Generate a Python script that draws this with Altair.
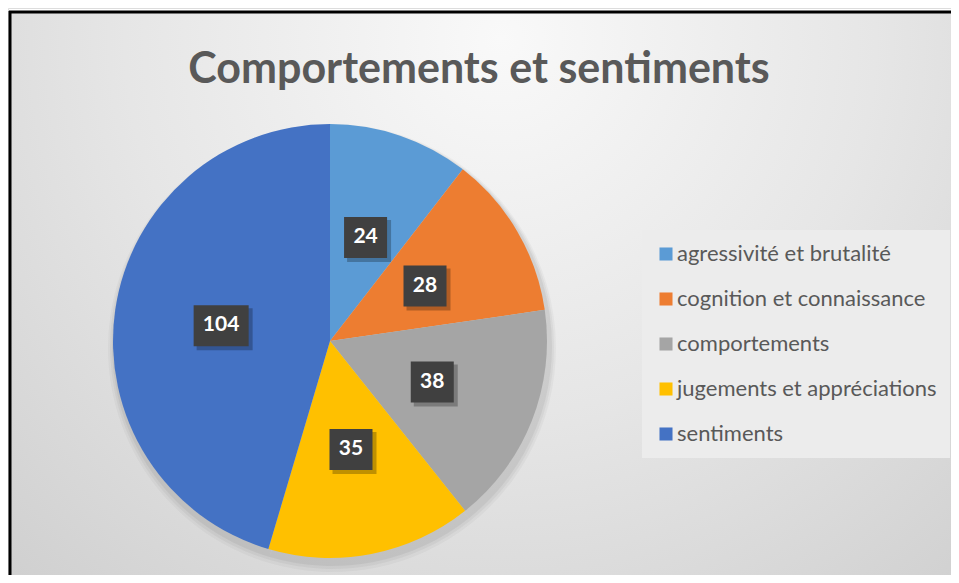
import altair as alt
import pandas as pd

categories = ["agressivité et brutalité", "cognition et connaissance", "comportements",
              "jugements et appréciations", "sentiments"]
values = [24, 28, 38, 35, 104]
colors = ["#5B9BD5", "#ED7D31", "#A5A5A5", "#FFC000", "#4472C4"]
title_text = "Comportements et sentiments"

W, H = 943, 567
CX, CY, R, RL = 322, 333, 217, 110

df = pd.DataFrame({"category": categories, "value": values, "order": list(range(len(values)))})

xs = alt.Scale(domain=[0, W], nice=False, zero=False)
ys = alt.Scale(domain=[0, H], reverse=True, nice=False, zero=False)

grad = {
    "gradient": "radial",
    "stops": [{"offset": 0, "color": "#f9f9f9"}, {"offset": 0.45, "color": "#e6e6e6"},
              {"offset": 1, "color": "#c9c9c9"}],
    "x1": 0.5, "y1": 0.22, "r1": 0, "x2": 0.5, "y2": 0.22, "r2": 0.85,
}

base = alt.Chart(df)

frame_bg = base.transform_filter("datum.order == 0").mark_rect(fill=grad).encode(
    x=alt.value(2), x2=alt.value(W + 40), y=alt.value(4), y2=alt.value(H + 40))
frame_top = base.transform_filter("datum.order == 0").mark_rule(color="black", strokeWidth=3).encode(
    x=alt.value(1), x2=alt.value(W + 40), y=alt.value(4))
frame_left = base.transform_filter("datum.order == 0").mark_rule(color="black", strokeWidth=3).encode(
    x=alt.value(2), y=alt.value(3), y2=alt.value(H + 40))

title = base.transform_filter("datum.order == 0").mark_text(
    text=title_text, font="Lato", fontWeight="bold", fontSize=43, color="#595959",
    align="center", baseline="alphabetic"
).encode(x=alt.value(471), y=alt.value(75))

shadows = [
    base.mark_arc(outerRadius=R + r_add, color="black", opacity=op).encode(
        theta=alt.Theta("value:Q", stack=True), order="order:Q",
        x=alt.value(CX + 2), y=alt.value(CY + dy))
    for r_add, dy, op in [(7, 7, 0.03), (5, 6, 0.04), (3, 5, 0.05)]
]

pie = base.mark_arc(outerRadius=R).encode(
    theta=alt.Theta("value:Q", stack=True),
    order="order:Q",
    color=alt.Color("category:N", sort=categories,
                    scale=alt.Scale(domain=categories, range=colors),
                    legend=alt.Legend(orient="none", legendX=634, legendY=222, title=None,
                                      symbolType="square", symbolSize=170, symbolStrokeWidth=0,
                                      labelFont="Lato", labelFontSize=22, labelColor="#595959",
                                      labelOffset=0, rowPadding=23, padding=13,
                                      fillColor="#ececec", labelLimit=400)),
    x=alt.value(CX), y=alt.value(CY),
)

lab = base.transform_joinaggregate(total="sum(value)").transform_window(
    cum="sum(value)", sort=[alt.SortField("order")]
).transform_calculate(
    mid="(datum.cum - datum.value/2) / datum.total * 2 * PI",
    cx=f"{CX} + {RL} * sin(datum.mid)",
    cy=f"{CY} - {RL} * cos(datum.mid)",
    w="length(toString(datum.value)) * 12 + 19",
    bx1="datum.cx - datum.w/2", bx2="datum.cx + datum.w/2",
    by1="datum.cy - 20", by2="datum.cy + 21",
    sx1="datum.bx1 + 3", sx2="datum.bx2 + 4", sy1="datum.by1 + 3", sy2="datum.by2 + 4",
)

box_shadow = lab.mark_rect(color="black", opacity=0.25).encode(
    x=alt.X("sx1:Q", scale=xs, axis=None), x2="sx2:Q",
    y=alt.Y("sy1:Q", scale=ys, axis=None), y2="sy2:Q")

box = lab.mark_rect(color="#404040").encode(
    x=alt.X("bx1:Q", scale=xs, axis=None), x2="bx2:Q",
    y=alt.Y("by1:Q", scale=ys, axis=None), y2="by2:Q")

text = lab.mark_text(font="Lato", fontWeight="bold", fontSize=21, color="white",
                     align="center", baseline="middle").encode(
    x=alt.X("cx:Q", scale=xs, axis=None),
    y=alt.Y("cy:Q", scale=ys, axis=None),
    text="value:Q")

chart = alt.layer(frame_bg, frame_top, frame_left, title, *shadows, pie, box_shadow, box, text).properties(
    width=W, height=H, padding=0, autosize=alt.AutoSizeParams(type="none")
).configure_view(stroke=None).configure(background="white")

chart.save("out.html", embed_options={"renderer": "svg", "actions": False})
